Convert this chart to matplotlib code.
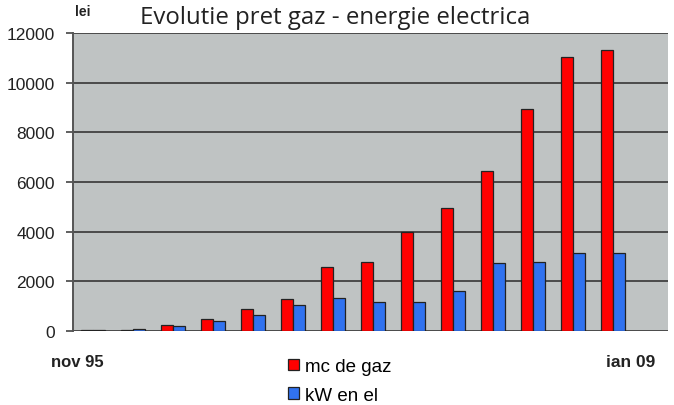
import numpy as np
import matplotlib.pyplot as plt

# values (lei)
gaz = [30, 30, 240, 470, 900, 1280, 2580, 2780, 3990, 4950, 6430, 8950, 11050, 11320]
curent = [30, 70, 200, 390, 650, 1050, 1340, 1170, 1170, 1600, 2740, 2780, 3150, 3150]
series_names = ['mc de gaz', 'kW en el']
yticks = [0, 2000, 4000, 6000, 8000, 10000, 12000]

red = '#ff0000'
blue = '#3172ef'
bg = '#bfc3c3'

fig = plt.figure(figsize=(6.74, 4.06), dpi=100)
ax = fig.add_axes([73 / 674, 1 - 332 / 406, 595 / 674, 298 / 406])
ax.set_facecolor(bg)

x = np.arange(len(gaz))
w = 0.3
ax.bar(x - w / 2, gaz, w, color=red, edgecolor='#222222', linewidth=0.9,
       label=series_names[0], zorder=3)
ax.bar(x + w / 2, curent, w, color=blue, edgecolor='#222222', linewidth=0.9,
       label=series_names[1], zorder=3)

ax.set_xlim(-0.5, 14.38)
ax.set_ylim(0, 12000)
ax.set_yticks(yticks)
ax.set_yticklabels([str(v) for v in yticks], fontsize=12.5,
                   family='Liberation Sans', color='#222222')
ax.set_xticks([])
ax.yaxis.grid(True, color='#4a4a4a', linewidth=1.4, zorder=1)
ax.tick_params(axis='y', length=5, width=1.2, color='#444444', pad=8)
for s in ['top', 'right', 'bottom']:
    ax.spines[s].set_visible(False)
ax.spines['left'].set_color('#555555')
ax.spines['left'].set_linewidth(1.4)

fig.text(140 / 674, 1 - 18 / 406, 'Evolutie pret gaz - energie electrica',
         fontsize=17.3, family='Open Sans', color='#222222', va='center', ha='left')
fig.text(75 / 674, 1 - 12 / 406, 'lei', fontsize=10, fontweight='bold',
         family='Liberation Sans', color='#222222', va='center', ha='left')
fig.text(77 / 674, 1 - 363 / 406, 'nov 95', fontsize=12, fontweight='bold',
         family='Liberation Sans', color='#222222', va='center', ha='center')
fig.text(631 / 674, 1 - 363 / 406, 'ian 09', fontsize=12.5, fontweight='bold',
         family='Liberation Sans', color='#222222', va='center', ha='center')

fig.legend(loc='center left', bbox_to_anchor=(279 / 674, 1 - 382 / 406),
           frameon=False, ncol=1, handlelength=0.55, handleheight=0.55,
           handletextpad=0.35, labelspacing=0.6, borderpad=0,
           prop={'family': 'Liberation Sans', 'size': 13.5})

fig.savefig('out.png', dpi=100)
